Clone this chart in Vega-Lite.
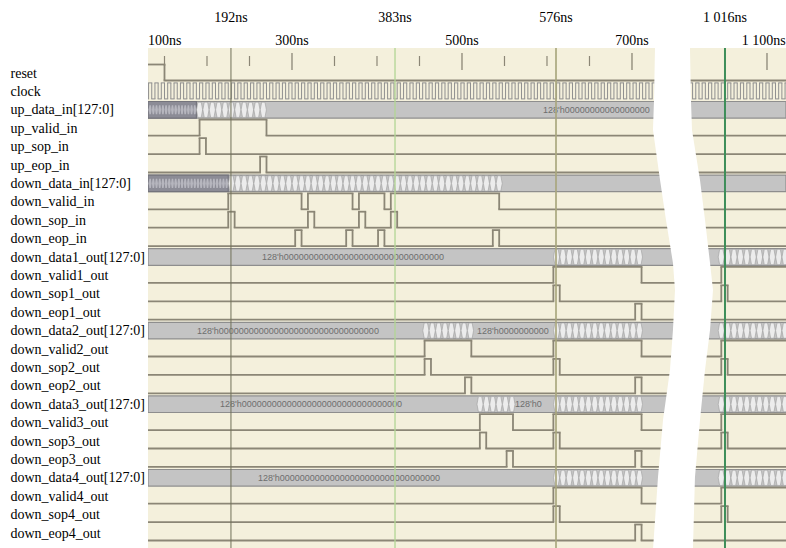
{
  "$schema": "https://vega.github.io/schema/vega-lite/v6.json",
  "width": 638,
  "height": 500,
  "autosize": {"type": "none"},
  "padding": {"left": 148, "top": 48, "right": 0, "bottom": 0},
  "background": "white",
  "config": {"view": {"fill": "#f4f0dc", "stroke": null}, "font": "Liberation Serif", "axis": {"labelOverlap": false}, "axisY": {"labelOverlap": false, "tickCount": 26}},
  "datasets": {
    "bus": [
      {"row": 2, "t0": 130.588, "t1": 1122.35},
      {"row": 6, "t0": 130.588, "t1": 1122.35},
      {"row": 10, "t0": 130.588, "t1": 1122.35},
      {"row": 14, "t0": 130.588, "t1": 1122.35},
      {"row": 18, "t0": 130.588, "t1": 1122.35},
      {"row": 22, "t0": 130.588, "t1": 1122.35}
    ],
    "darkbus": [
      {"row": 2, "t0": 130.588, "t1": 187.5},
      {"row": 6, "t0": 130.588, "t1": 225}
    ],
    "cells": [
      {"row": 2, "t": [191.25,198.75,206.25,213.75,221.25,228.75,236.25,243.75,251.25,258.75,266.25]},
      {"row": 6, "t": [228.75,236.25,243.75,251.25,258.75,266.25,273.75,281.25,288.75,296.25,303.75,311.25,318.75,326.25,333.75,341.25,348.75,356.25,363.75,371.25,378.75,386.25,393.75,401.25,408.75,416.25,423.75,431.25,438.75,446.25,453.75,461.25,468.75,476.25,483.75,491.25,498.75,506.25,513.75,521.25,528.75,536.25,543.75]},
      {"row": 10, "t": [611.25,618.75,626.25,633.75,641.25,648.75,656.25,663.75,671.25,678.75,686.25,693.75,701.25,708.75,1046.25,1053.75,1061.25,1068.75,1076.25,1083.75,1091.25,1098.75,1106.25,1113.75,1121.25]},
      {"row": 14, "t": [457.5,465,472.5,480,487.5,495,502.5,510,611.25,618.75,626.25,633.75,641.25,648.75,656.25,663.75,671.25,678.75,686.25,693.75,701.25,708.75,1046.25,1053.75,1061.25,1068.75,1076.25,1083.75,1091.25,1098.75,1106.25,1113.75,1121.25]},
      {"row": 18, "t": [521.25,528.75,536.25,543.75,551.25,558.75,611.25,618.75,626.25,633.75,641.25,648.75,656.25,663.75,671.25,678.75,686.25,693.75,701.25,708.75,1046.25,1053.75,1061.25,1068.75,1076.25,1083.75,1091.25,1098.75,1106.25,1113.75,1121.25]},
      {"row": 22, "t": [611.25,618.75,626.25,633.75,641.25,648.75,656.25,663.75,671.25,678.75,686.25,693.75,701.25,708.75,1046.25,1053.75,1061.25,1068.75,1076.25,1083.75,1091.25,1098.75,1106.25,1113.75,1121.25]}
    ],
    "darkcells": [
      {"row": 2, "t": [129.375,133.125,136.875,140.625,144.375,148.125,151.875,155.625,159.375,163.125,166.875,170.625,174.375,178.125,181.875,185.625]},
      {"row": 6, "t": [129.375,133.125,136.875,140.625,144.375,148.125,151.875,155.625,159.375,163.125,166.875,170.625,174.375,178.125,181.875,185.625,189.375,193.125,196.875,200.625,204.375,208.125,211.875,215.625,219.375,223.125]}
    ],
    "bustext": [
      {"row": 2, "t": 595.3, "label": "128'h00000000000000000"},
      {"row": 10, "t": 264.7, "label": "128'h00000000000000000000000000000000"},
      {"row": 14, "t": 188.2, "label": "128'h00000000000000000000000000000000"},
      {"row": 14, "t": 517.6, "label": "128'h0000000000"},
      {"row": 18, "t": 215.3, "label": "128'h00000000000000000000000000000000"},
      {"row": 18, "t": 562.4, "label": "128'h0"},
      {"row": 22, "t": 260, "label": "128'h00000000000000000000000000000000"}
    ],
    "clock": [
      {"sig": "clock", "row": 1,
       "t": [130.588,131.25,135,138.75,142.5,146.25,150,153.75,157.5,161.25,165,168.75,172.5,176.25,180,183.75,187.5,191.25,195,198.75,202.5,206.25,210,213.75,217.5,221.25,225,228.75,232.5,236.25,240,243.75,247.5,251.25,255,258.75,262.5,266.25,270,273.75,277.5,281.25,285,288.75,292.5,296.25,300,303.75,307.5,311.25,315,318.75,322.5,326.25,330,333.75,337.5,341.25,345,348.75,352.5,356.25,360,363.75,367.5,371.25,375,378.75,382.5,386.25,390,393.75,397.5,401.25,405,408.75,412.5,416.25,420,423.75,427.5,431.25,435,438.75,442.5,446.25,450,453.75,457.5,461.25,465,468.75,472.5,476.25,480,483.75,487.5,491.25,495,498.75,502.5,506.25,510,513.75,517.5,521.25,525,528.75,532.5,536.25,540,543.75,547.5,551.25,555,558.75,562.5,566.25,570,573.75,577.5,581.25,585,588.75,592.5,596.25,600,603.75,607.5,611.25,615,618.75,622.5,626.25,630,633.75,637.5,641.25,645,648.75,652.5,656.25,660,663.75,667.5,671.25,675,678.75,682.5,686.25,690,693.75,697.5,701.25,705,708.75,712.5,716.25,720,723.75,727.5,731.25,735,738.75,742.5,746.25,750,1008.75,1012.5,1016.25,1020,1023.75,1027.5,1031.25,1035,1038.75,1042.5,1046.25,1050,1053.75,1057.5,1061.25,1065,1068.75,1072.5,1076.25,1080,1083.75,1087.5,1091.25,1095,1098.75,1102.5,1106.25,1110,1113.75,1117.5,1121.25,1122.35],
       "v": [0,1,0,1,0,1,0,1,0,1,0,1,0,1,0,1,0,1,0,1,0,1,0,1,0,1,0,1,0,1,0,1,0,1,0,1,0,1,0,1,0,1,0,1,0,1,0,1,0,1,0,1,0,1,0,1,0,1,0,1,0,1,0,1,0,1,0,1,0,1,0,1,0,1,0,1,0,1,0,1,0,1,0,1,0,1,0,1,0,1,0,1,0,1,0,1,0,1,0,1,0,1,0,1,0,1,0,1,0,1,0,1,0,1,0,1,0,1,0,1,0,1,0,1,0,1,0,1,0,1,0,1,0,1,0,1,0,1,0,1,0,1,0,1,0,1,0,1,0,1,0,1,0,1,0,1,0,1,0,1,0,1,0,1,0,1,0,1,0,1,0,1,0,1,0,1,0,1,0,1,0,1,0,1,0,1,0,1,0,1,0,1,0,1,0,1,0,1,1]}
    ],
    "bits": [
      {"sig": "reset", "row": 0, "t": [130.588,150,1122.35], "v": [1,0,0]},
      {"sig": "up_valid_in", "row": 3, "t": [130.588,191.25,270,1122.35], "v": [0,1,0,0]},
      {"sig": "up_sop_in", "row": 4, "t": [130.588,191.25,198.75,1122.35], "v": [0,1,0,0]},
      {"sig": "up_eop_in", "row": 5, "t": [130.588,262.5,270,1122.35], "v": [0,1,0,0]},
      {"sig": "down_valid_in", "row": 7, "t": [130.588,225,311.25,318.75,371.25,378.75,408.75,416.25,543.75,1122.35], "v": [0,1,0,1,0,1,0,1,0,0]},
      {"sig": "down_sop_in", "row": 8, "t": [130.588,225,232.5,318.75,326.25,378.75,386.25,416.25,423.75,1122.35], "v": [0,1,0,1,0,1,0,1,0,0]},
      {"sig": "down_eop_in", "row": 9, "t": [130.588,303.75,311.25,363.75,371.25,401.25,408.75,536.25,543.75,1122.35], "v": [0,1,0,1,0,1,0,1,0,0]},
      {"sig": "down_valid1_out", "row": 11, "t": [130.588,607.5,711.25,1046.25,1122.35], "v": [0,1,0,1,1]},
      {"sig": "down_sop1_out", "row": 12, "t": [130.588,607.5,615,1046.25,1053.75,1122.35], "v": [0,1,0,1,0,0]},
      {"sig": "down_eop1_out", "row": 13, "t": [130.588,703.75,711.25,1122.35], "v": [0,1,0,0]},
      {"sig": "down_valid2_out", "row": 15, "t": [130.588,456,511,607.5,711.25,1046.25,1122.35], "v": [0,1,0,1,0,1,1]},
      {"sig": "down_sop2_out", "row": 16, "t": [130.588,456,463.5,607.5,615,1046.25,1053.75,1122.35], "v": [0,1,0,1,0,1,0,0]},
      {"sig": "down_eop2_out", "row": 17, "t": [130.588,503.5,511,703.75,711.25,1122.35], "v": [0,1,0,1,0,0]},
      {"sig": "down_valid3_out", "row": 19, "t": [130.588,521,560,607.5,711.25,1046.25,1122.35], "v": [0,1,0,1,0,1,1]},
      {"sig": "down_sop3_out", "row": 20, "t": [130.588,521,528.5,607.5,615,1046.25,1053.75,1122.35], "v": [0,1,0,1,0,1,0,0]},
      {"sig": "down_eop3_out", "row": 21, "t": [130.588,552.5,560,703.75,711.25,1122.35], "v": [0,1,0,1,0,0]},
      {"sig": "down_valid4_out", "row": 23, "t": [130.588,607.5,711.25,1046.25,1122.35], "v": [0,1,0,1,1]},
      {"sig": "down_sop4_out", "row": 24, "t": [130.588,607.5,615,1046.25,1053.75,1122.35], "v": [0,1,0,1,0,0]},
      {"sig": "down_eop4_out", "row": 25, "t": [130.588,703.75,711.25,1122.35], "v": [0,1,0,0]}
    ],
    "ticksMinor": [{"t": 150}, {"t": 200}, {"t": 250}, {"t": 350}, {"t": 400}, {"t": 450}, {"t": 550}, {"t": 600}, {"t": 650}],
    "ticksMajor": [{"t": 300}, {"t": 500}, {"t": 700}, {"t": 1100}],
    "cursors": [
      {"t": 228.2, "label": "192ns"},
      {"t": 421.2, "label": "383ns"},
      {"t": 610.6, "label": "576ns"},
      {"t": 1050.6, "label": "1 016ns"}
    ],
    "axisLabels": [
      {"t": 300, "label": "300ns"},
      {"t": 500, "label": "500ns"},
      {"t": 700, "label": "700ns"},
      {"t": 1096, "label": "1 100ns"}
    ],
    "axisStart": [{"t": 130.588, "label": "100ns"}],
    "gap": [
      {"gy": -1.4, "xl": 727.1, "xr": 1009.4},
      {"gy": 1.467, "xl": 725.9, "xr": 1010.6},
      {"gy": 3.098, "xl": 724.7, "xr": 1011.8},
      {"gy": 5.815, "xl": 733, "xr": 1021.2},
      {"gy": 7.989, "xl": 740, "xr": 1027.1},
      {"gy": 10.326, "xl": 748.2, "xr": 1033},
      {"gy": 11.793, "xl": 750.6, "xr": 1036.5},
      {"gy": 13.967, "xl": 748.2, "xr": 1033},
      {"gy": 16.141, "xl": 744.7, "xr": 1027.1},
      {"gy": 18.859, "xl": 736.5, "xr": 1021.2},
      {"gy": 21.957, "xl": 730.6, "xr": 1015.3},
      {"gy": 25.9, "xl": 724.7, "xr": 1012.9}
    ]
  },
  "layer": [
    {
      "data": {"name": "bus"},
      "mark": {"type": "rect", "fill": "#c4c4c4", "stroke": "#8e8e8e", "strokeWidth": 1.2, "yOffset": -8.3, "y2Offset": 8.3, "clip": true},
      "encoding": {
        "x": {"field": "t0", "type": "quantitative", "axis": null,
              "scale": {"domain": [130.588, 750.6, 1007.1, 1122.35], "range": [0, 527, 540, 638], "nice": false, "zero": false}},
        "x2": {"field": "t1"},
        "y": {"field": "row", "type": "quantitative",
              "scale": {"domain": [-1.3587, 25.8152], "reverse": true, "nice": false, "zero": false},
              "axis": {"values": [0,1,2,3,4,5,6,7,8,9,10,11,12,13,14,15,16,17,18,19,20,21,22,23,24,25],
                       "tickCount": 26,
                       "labelExpr": "datum.value >= 0 && datum.value <= 25 && datum.value == floor(datum.value) ? ['reset','clock','up_data_in[127:0]','up_valid_in','up_sop_in','up_eop_in','down_data_in[127:0]','down_valid_in','down_sop_in','down_eop_in','down_data1_out[127:0]','down_valid1_out','down_sop1_out','down_eop1_out','down_data2_out[127:0]','down_valid2_out','down_sop2_out','down_eop2_out','down_data3_out[127:0]','down_valid3_out','down_sop3_out','down_eop3_out','down_data4_out[127:0]','down_valid4_out','down_sop4_out','down_eop4_out'][datum.value] : ''",
                       "ticks": false, "tickSize": 0, "domain": false, "grid": false, "title": null,
                       "labelAlign": "left", "labelBaseline": "middle", "labelPadding": 138,
                       "labelFont": "Liberation Serif, Times New Roman, serif", "labelFontSize": 14, "labelColor": "#000000",
                       "labelOverlap": false, "labelFlush": false, "labelBound": false, "labelSeparation": 0}},
        "y2": {"field": "row"}
      }
    },
    {
      "data": {"name": "darkbus"},
      "mark": {"type": "rect", "fill": "#8c8c96", "stroke": "#74747c", "strokeWidth": 1.2, "yOffset": -8.3, "y2Offset": 8.3, "clip": true},
      "encoding": {
        "x": {"field": "t0", "type": "quantitative", "axis": null},
        "x2": {"field": "t1"},
        "y": {"field": "row", "type": "quantitative"},
        "y2": {"field": "row"}
      }
    },
    {
      "data": {"name": "cells"},
      "transform": [{"flatten": ["t"]}],
      "mark": {"type": "point", "shape": "M-0.37,0L-0.2,-0.92L0.2,-0.92L0.37,0L0.2,0.92L-0.2,0.92Z", "size": 275, "filled": true, "fill": "#ececec", "stroke": "#9e9e9e", "strokeWidth": 0.6, "opacity": 1, "clip": true},
      "encoding": {
        "x": {"field": "t", "type": "quantitative", "axis": null},
        "y": {"field": "row", "type": "quantitative"}
      }
    },
    {
      "data": {"name": "darkcells"},
      "transform": [{"flatten": ["t"]}],
      "mark": {"type": "point", "shape": "M-0.17,0L-0.09,-0.55L0.09,-0.55L0.17,0L0.09,0.55L-0.09,0.55Z", "size": 275, "filled": true, "fill": "#b6b6be", "strokeWidth": 0, "opacity": 1, "clip": true},
      "encoding": {
        "x": {"field": "t", "type": "quantitative", "axis": null},
        "y": {"field": "row", "type": "quantitative"}
      }
    },
    {
      "data": {"name": "bustext"},
      "mark": {"type": "text", "align": "left", "baseline": "middle", "font": "Liberation Sans", "fontSize": 9, "fill": "#6e6e6e", "clip": true},
      "encoding": {
        "x": {"field": "t", "type": "quantitative", "axis": null},
        "y": {"field": "row", "type": "quantitative"},
        "text": {"field": "label"}
      }
    },
    {
      "data": {"name": "clock"},
      "transform": [
        {"flatten": ["t", "v"]},
        {"window": [{"op": "lead", "field": "t", "as": "t1"}], "groupby": ["sig"], "sort": [{"field": "t"}]},
        {"filter": "datum.v == 1 && isValid(datum.t1)"}
      ],
      "mark": {"type": "rule", "stroke": "#8f8f8f", "strokeWidth": 1, "strokeCap": "square", "yOffset": -8.5, "clip": true},
      "encoding": {
        "x": {"field": "t", "type": "quantitative", "axis": null},
        "x2": {"field": "t1"},
        "y": {"field": "row", "type": "quantitative"}
      }
    },
    {
      "data": {"name": "clock"},
      "transform": [
        {"flatten": ["t", "v"]},
        {"window": [{"op": "lead", "field": "t", "as": "t1"}], "groupby": ["sig"], "sort": [{"field": "t"}]},
        {"filter": "datum.v == 0 && isValid(datum.t1)"}
      ],
      "mark": {"type": "rule", "stroke": "#8f8f8f", "strokeWidth": 1, "strokeCap": "square", "yOffset": 7.5, "clip": true},
      "encoding": {
        "x": {"field": "t", "type": "quantitative", "axis": null},
        "x2": {"field": "t1"},
        "y": {"field": "row", "type": "quantitative"}
      }
    },
    {
      "data": {"name": "clock"},
      "transform": [
        {"flatten": ["t", "v"]},
        {"filter": "datum.t > 131 && datum.t < 1122"}
      ],
      "mark": {"type": "rule", "stroke": "#8f8f8f", "strokeWidth": 1, "yOffset": -8.5, "y2Offset": 7.5, "clip": true},
      "encoding": {
        "x": {"field": "t", "type": "quantitative", "axis": null},
        "y": {"field": "row", "type": "quantitative"},
        "y2": {"field": "row"}
      }
    },
    {
      "data": {"name": "bits"},
      "transform": [
        {"flatten": ["t", "v"]},
        {"window": [{"op": "lead", "field": "t", "as": "t1"}], "groupby": ["sig"], "sort": [{"field": "t"}]},
        {"filter": "datum.v == 1 && isValid(datum.t1)"}
      ],
      "mark": {"type": "rule", "stroke": "#8b8676", "strokeWidth": 1.8, "strokeCap": "square", "yOffset": -8.5, "clip": true},
      "encoding": {
        "x": {"field": "t", "type": "quantitative", "axis": null},
        "x2": {"field": "t1"},
        "y": {"field": "row", "type": "quantitative"}
      }
    },
    {
      "data": {"name": "bits"},
      "transform": [
        {"flatten": ["t", "v"]},
        {"window": [{"op": "lead", "field": "t", "as": "t1"}], "groupby": ["sig"], "sort": [{"field": "t"}]},
        {"filter": "datum.v == 0 && isValid(datum.t1)"}
      ],
      "mark": {"type": "rule", "stroke": "#8b8676", "strokeWidth": 1.8, "strokeCap": "square", "yOffset": 7.5, "clip": true},
      "encoding": {
        "x": {"field": "t", "type": "quantitative", "axis": null},
        "x2": {"field": "t1"},
        "y": {"field": "row", "type": "quantitative"}
      }
    },
    {
      "data": {"name": "bits"},
      "transform": [
        {"flatten": ["t", "v"]},
        {"filter": "datum.t > 131 && datum.t < 1122"}
      ],
      "mark": {"type": "rule", "stroke": "#8b8676", "strokeWidth": 1.8, "yOffset": -8.5, "y2Offset": 7.5, "clip": true},
      "encoding": {
        "x": {"field": "t", "type": "quantitative", "axis": null},
        "y": {"field": "row", "type": "quantitative"},
        "y2": {"field": "row"}
      }
    },
    {
      "data": {"name": "ticksMinor"},
      "mark": {"type": "rule", "stroke": "#8b8676", "strokeWidth": 1.2},
      "encoding": {
        "x": {"field": "t", "type": "quantitative", "axis": null},
        "y": {"datum": -0.924},
        "y2": {"datum": -0.38}
      }
    },
    {
      "data": {"name": "ticksMajor"},
      "mark": {"type": "rule", "stroke": "#8b8676", "strokeWidth": 1.3},
      "encoding": {
        "x": {"field": "t", "type": "quantitative", "axis": null},
        "y": {"datum": -1.087},
        "y2": {"datum": -0.163}
      }
    },
    {
      "data": {"name": "cursors"},
      "mark": {"type": "rule", "clip": true},
      "encoding": {
        "x": {"field": "t", "type": "quantitative", "axis": null},
        "color": {"field": "label", "type": "nominal", "legend": null,
                  "scale": {"domain": ["192ns", "383ns", "576ns", "1 016ns"], "range": ["#707058", "#b3d696", "#a9a77e", "#3e8e5a"]}},
        "strokeWidth": {"field": "label", "type": "ordinal", "legend": null,
                        "scale": {"domain": ["192ns", "383ns", "576ns", "1 016ns"], "range": [1, 2, 1.5, 2]}}
      }
    },
    {
      "data": {"name": "gap"},
      "mark": {"type": "area", "orient": "horizontal", "interpolate": "linear", "fill": "#ffffff", "fillOpacity": 1, "clip": true},
      "encoding": {
        "y": {"field": "gy", "type": "quantitative"},
        "x": {"field": "xl", "type": "quantitative", "axis": null, "stack": null},
        "x2": {"field": "xr"}
      }
    },
    {
      "data": {"name": "cursors"},
      "mark": {"type": "text", "align": "center", "baseline": "alphabetic", "font": "Liberation Serif, Times New Roman, serif", "fontSize": 14, "fill": "#000000"},
      "encoding": {
        "x": {"field": "t", "type": "quantitative", "axis": null},
        "y": {"datum": -2.77},
        "text": {"field": "label"}
      }
    },
    {
      "data": {"name": "axisLabels"},
      "mark": {"type": "text", "align": "center", "baseline": "alphabetic", "font": "Liberation Serif, Times New Roman, serif", "fontSize": 14, "fill": "#000000"},
      "encoding": {
        "x": {"field": "t", "type": "quantitative", "axis": null},
        "y": {"datum": -1.522},
        "text": {"field": "label"}
      }
    },
    {
      "data": {"name": "axisStart"},
      "mark": {"type": "text", "align": "left", "baseline": "alphabetic", "font": "Liberation Serif, Times New Roman, serif", "fontSize": 14, "fill": "#000000"},
      "encoding": {
        "x": {"field": "t", "type": "quantitative", "axis": null},
        "y": {"datum": -1.522},
        "text": {"field": "label"}
      }
    }
  ]
}
